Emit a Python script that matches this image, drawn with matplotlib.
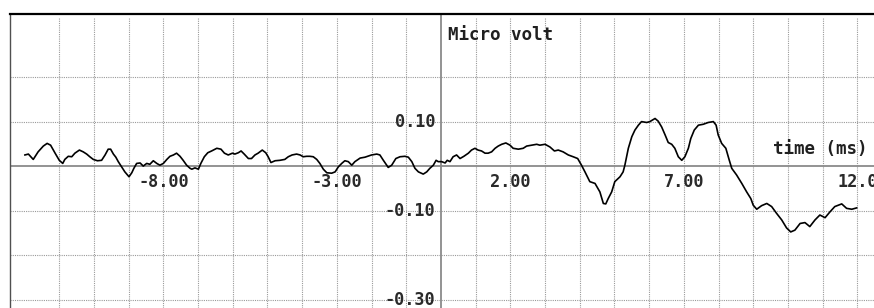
import numpy as np
import matplotlib
matplotlib.use("Agg")
import matplotlib.pyplot as plt

# ---- data (time in ms, amplitude in micro volt) ----
time_ms = [-11.99,-11.89,-11.75,-11.61,-11.46,-11.35,-11.25,-11.12,-11.00,-10.90,-10.84,-10.74,-10.64,-10.55,-10.42,-10.31,-10.21,-10.12,-10.02,-9.90,-9.78,-9.68,-9.59,-9.52,-9.44,-9.37,-9.30,-9.20,-9.11,-8.99,-8.91,-8.85,-8.77,-8.67,-8.58,-8.48,-8.39,-8.29,-8.19,-8.10,-8.00,-7.90,-7.81,-7.71,-7.62,-7.52,-7.43,-7.33,-7.23,-7.18,-7.09,-6.99,-6.92,-6.82,-6.72,-6.61,-6.46,-6.34,-6.24,-6.13,-6.01,-5.94,-5.84,-5.76,-5.67,-5.55,-5.46,-5.36,-5.27,-5.15,-5.05,-4.98,-4.90,-4.78,-4.64,-4.50,-4.40,-4.29,-4.16,-4.06,-3.97,-3.87,-3.78,-3.68,-3.58,-3.49,-3.39,-3.29,-3.15,-3.05,-2.96,-2.86,-2.77,-2.67,-2.57,-2.48,-2.33,-2.19,-2.00,-1.85,-1.76,-1.66,-1.52,-1.42,-1.30,-1.18,-1.04,-0.94,-0.84,-0.75,-0.65,-0.51,-0.41,-0.32,-0.22,-0.14,-0.08,0.02,0.12,0.18,0.26,0.35,0.45,0.55,0.66,0.79,0.88,0.98,1.07,1.17,1.27,1.36,1.46,1.56,1.65,1.75,1.87,1.99,2.08,2.23,2.37,2.47,2.61,2.76,2.85,3.00,3.14,3.27,3.38,3.52,3.67,3.81,3.94,4.05,4.15,4.29,4.44,4.58,4.68,4.75,4.82,4.92,5.01,5.16,5.25,5.30,5.40,5.50,5.59,5.69,5.78,5.93,6.02,6.17,6.26,6.36,6.46,6.55,6.65,6.74,6.84,6.94,7.03,7.13,7.20,7.30,7.42,7.56,7.70,7.85,7.93,7.99,8.09,8.21,8.31,8.38,8.52,8.67,8.81,8.93,9.00,9.10,9.24,9.39,9.53,9.67,9.82,9.96,10.08,10.20,10.35,10.49,10.63,10.78,10.92,11.07,11.21,11.35,11.55,11.69,11.84,11.98]

micro_volt = [0.025,0.027,0.015,0.032,0.045,0.051,0.047,0.029,0.013,0.006,0.015,0.022,0.021,0.029,0.036,0.032,0.027,0.021,0.015,0.012,0.013,0.025,0.038,0.038,0.027,0.020,0.010,-0.002,-0.013,-0.024,-0.015,-0.005,0.006,0.007,0.000,0.006,0.004,0.012,0.006,0.002,0.006,0.015,0.022,0.025,0.029,0.022,0.013,0.002,-0.005,-0.007,-0.004,-0.007,0.006,0.021,0.030,0.034,0.040,0.038,0.029,0.025,0.029,0.027,0.030,0.034,0.027,0.017,0.017,0.025,0.029,0.036,0.030,0.021,0.008,0.012,0.013,0.015,0.021,0.025,0.027,0.025,0.021,0.022,0.022,0.021,0.015,0.006,-0.007,-0.015,-0.016,-0.013,-0.002,0.006,0.012,0.010,0.002,0.010,0.018,0.020,0.025,0.027,0.025,0.013,-0.003,0.002,0.017,0.021,0.022,0.020,0.010,-0.005,-0.013,-0.018,-0.013,-0.005,0.002,0.013,0.010,0.010,0.007,0.013,0.010,0.021,0.025,0.017,0.022,0.029,0.036,0.040,0.036,0.034,0.029,0.029,0.032,0.040,0.045,0.049,0.052,0.047,0.040,0.038,0.040,0.045,0.047,0.049,0.047,0.049,0.043,0.034,0.036,0.032,0.025,0.021,0.017,0.002,-0.013,-0.035,-0.039,-0.058,-0.084,-0.085,-0.073,-0.058,-0.035,-0.024,-0.013,0.002,0.040,0.066,0.081,0.092,0.100,0.098,0.100,0.107,0.101,0.088,0.070,0.053,0.049,0.040,0.021,0.013,0.021,0.040,0.062,0.081,0.092,0.094,0.098,0.100,0.092,0.070,0.051,0.040,0.013,-0.005,-0.020,-0.039,-0.058,-0.073,-0.088,-0.097,-0.089,-0.084,-0.091,-0.106,-0.121,-0.139,-0.148,-0.144,-0.129,-0.127,-0.136,-0.121,-0.110,-0.116,-0.103,-0.091,-0.085,-0.095,-0.097,-0.094]

x_grid = [v for v in range(-11, 13) if v != 0]
y_grid = [0.2, 0.1, -0.1, -0.2, -0.3]
x_tick_values = [-8, -3, 2, 7, 12]
x_tick_labels = ["-8.00", "-3.00", "2.00", "7.00", "12.0"]
y_tick_values = [0.1, -0.1, -0.3]
y_tick_labels = ["0.10", "-0.10", "-0.30"]
y_label = "Micro volt"
x_label = "time (ms)"

# ---- figure ----
W, H = 874, 308
fig = plt.figure(figsize=(W / 100, H / 100), dpi=100)
fig.patch.set_facecolor("white")
ax = fig.add_axes([10 / W, 0, 1 - 10 / W, (H - 13.5) / H])
ax.set_xlim(-12.42, 12.48)
ax.set_ylim(-0.319, 0.343)
ax.set_xticks([])
ax.set_yticks([])
for s in ("right", "bottom"):
    ax.spines[s].set_visible(False)
ax.spines["top"].set_linewidth(1.6)
ax.spines["top"].set_color("black")
ax.spines["left"].set_linewidth(1.0)
ax.spines["left"].set_color("#505050")

grid_kw = dict(color="#9a9a9a", lw=0.8, linestyles=(0, (1, 1)), zorder=1)
ax.vlines(x_grid, -0.319, 0.335, **grid_kw)
ax.hlines(y_grid, -12.42, 12.48, **grid_kw)

ax.axhline(0, color="#8a8a8a", lw=1.3, zorder=2)
ax.axvline(0, color="#8a8a8a", lw=1.3, zorder=2)

ax.plot(time_ms, micro_volt, color="black", lw=1.2, zorder=3)

num_kw = dict(family="DejaVu Sans Mono", fontsize=12.2, color="#2a2a2a",
              fontweight="bold")
for xv, lab in zip(x_tick_values, x_tick_labels):
    ax.text(xv, -0.036, lab, ha="center", va="center", clip_on=False, **num_kw)
for yv, lab in zip(y_tick_values, y_tick_labels):
    ax.text(-0.17, yv, lab, ha="right", va="center", **num_kw)

lab_kw = dict(family="DejaVu Sans Mono", fontsize=12.6, color="#202020",
              fontweight="bold")
ax.text(0.2, 0.294, y_label, ha="left", va="center", **lab_kw)
ax.text(12.28, 0.038, x_label, ha="right", va="center", **lab_kw)

fig.savefig("out.png", dpi=100)
